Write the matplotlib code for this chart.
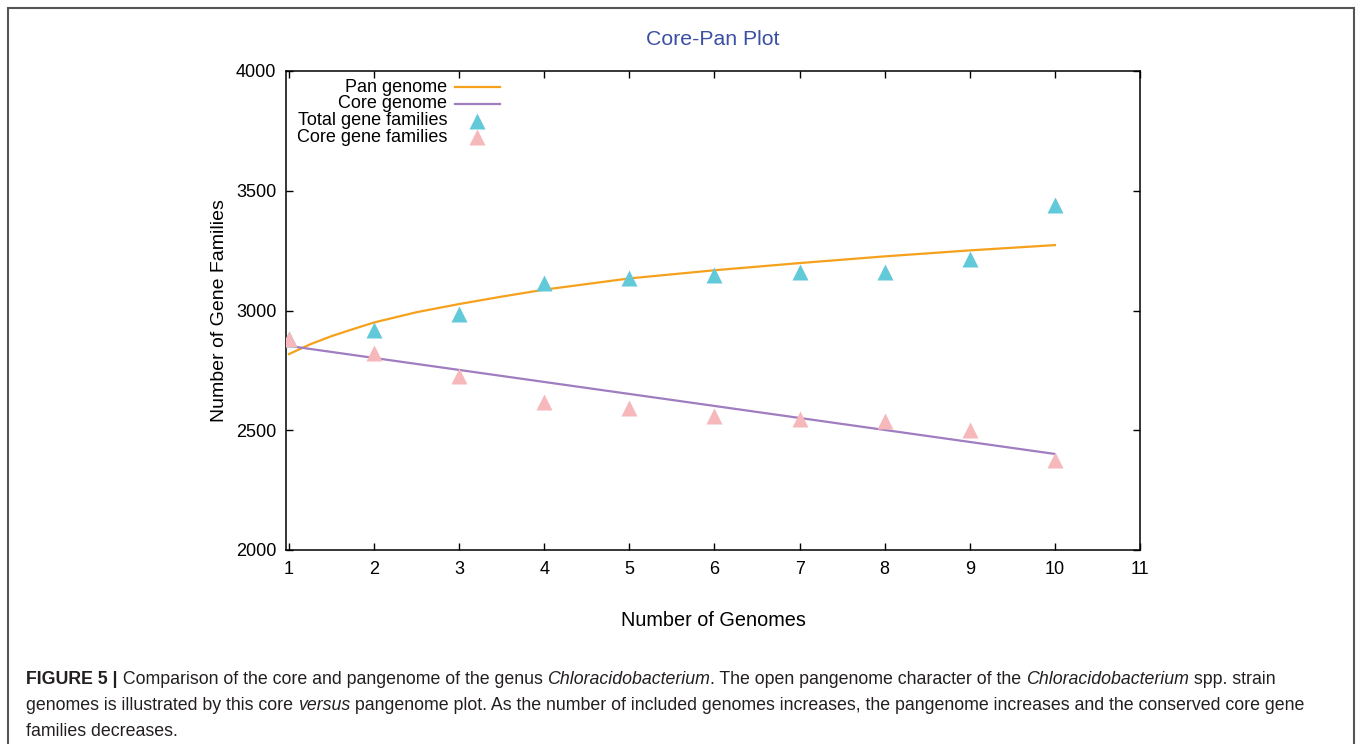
import matplotlib
matplotlib.use("Agg")
import matplotlib.pyplot as plt
from matplotlib.patches import Rectangle

plt.rcParams['font.family'] = ['Liberation Sans', 'DejaVu Sans']

# data
genomes = [1, 2, 3, 4, 5, 6, 7, 8, 9, 10]
total_families = [2881, 2918, 2985, 3115, 3135, 3148, 3160, 3160, 3215, 3440]
core_families = [2881, 2823, 2726, 2618, 2593, 2559, 2547, 2539, 2501, 2376]

# fitted curves
pan_x = [1, 1.25, 1.5, 1.75, 2, 2.5, 3, 3.5, 4, 5, 6, 7, 8, 9, 10]
pan_y = [2818, 2859, 2893, 2922, 2950, 2993, 3027, 3058, 3087, 3134, 3168, 3198, 3226, 3251, 3273]
core_x = [1, 10]
core_y = [2852, 2401]

legend_labels = ["Pan genome", "Core genome", "Total gene families", "Core gene families"]

c_pan = "#f5a11c"
c_core = "#a07cc0"
c_total = "#62c9d9"
c_corefam = "#f7b8bc"

W, H = 1358, 744
fig = plt.figure(figsize=(W / 100, H / 100), dpi=100)

# outer frame of the figure panel
fig.add_artist(Rectangle((8 / W, -0.01), (1354 - 8) / W, 1.01 - 8 / H,
                         transform=fig.transFigure, fill=False,
                         edgecolor="#555555", linewidth=1.5))

ax = fig.add_axes([286 / W, 1 - 550 / H, (1140 - 286) / W, (550 - 71) / H])

ax.plot(pan_x, pan_y, color=c_pan, lw=1.6, zorder=2)
ax.plot(core_x, core_y, color=c_core, lw=1.6, zorder=2)
ax.plot(genomes, total_families, linestyle="none", marker="^", ms=12,
        color=c_total, mec="none", zorder=3)
ax.plot(genomes, core_families, linestyle="none", marker="^", ms=12,
        color=c_corefam, mec="none", zorder=4)

ax.set_xlim(0.965, 11)
ax.set_ylim(2000, 4000)
ax.set_xticks(range(1, 12))
ax.set_yticks(range(2000, 4001, 500))
ax.tick_params(direction="in", length=5, width=1, top=True, right=True,
               labelsize=13, pad=7)
ax.tick_params(axis="x", pad=8)
for s in ax.spines.values():
    s.set_linewidth(1.1)

ax.set_xlabel("Number of Genomes", fontsize=14.3, labelpad=24)
ax.set_ylabel("Number of Gene Families", fontsize=14, labelpad=6)
ax.set_title("Core-Pan Plot", fontsize=15.3, color="#3b4fa3", pad=19)

# gnuplot-style key: label right aligned, sample to the right
styles = [dict(color=c_pan, lw=1.6), dict(color=c_core, lw=1.6),
          dict(color=c_total, marker="^", ms=12, mec="none", linestyle="none"),
          dict(color=c_corefam, marker="^", ms=12, mec="none", linestyle="none")]
for i, (lab, st) in enumerate(zip(legend_labels, styles)):
    yy = 1 - (16 + i * 16.8) / 479
    ax.text((447 - 286) / 854, yy, lab, transform=ax.transAxes, ha="right",
            va="center", fontsize=13)
    if "marker" in st:
        ax.plot([(477 - 286) / 854], [yy], transform=ax.transAxes, **st)
    else:
        ax.plot([(455 - 286) / 854, (500 - 286) / 854], [yy, yy],
                transform=ax.transAxes, **st)

# caption with mixed font styles
caption = [
    [("FIGURE 5 |", "bold", "normal"),
     (" Comparison of the core and pangenome of the genus ", "normal", "normal"),
     ("Chloracidobacterium", "normal", "italic"),
     (". The open pangenome character of the ", "normal", "normal"),
     ("Chloracidobacterium", "normal", "italic"),
     (" spp. strain", "normal", "normal")],
    [("genomes is illustrated by this core ", "normal", "normal"),
     ("versus", "normal", "italic"),
     (" pangenome plot. As the number of included genomes increases, the pangenome increases and the conserved core gene",
      "normal", "normal")],
    [("families decreases.", "normal", "normal")],
]
fig.canvas.draw()
renderer = fig.canvas.get_renderer()
line_y = [680, 706, 731]
for runs, ly in zip(caption, line_y):
    x = 26
    for txt, weight, style in runs:
        t = fig.text(x / W, 1 - ly / H, txt, fontsize=12.8, fontweight=weight,
                     fontstyle=style, color="#231f20", va="center", ha="left")
        bb = t.get_window_extent(renderer)
        x += bb.width

fig.savefig("out.png", dpi=100)
